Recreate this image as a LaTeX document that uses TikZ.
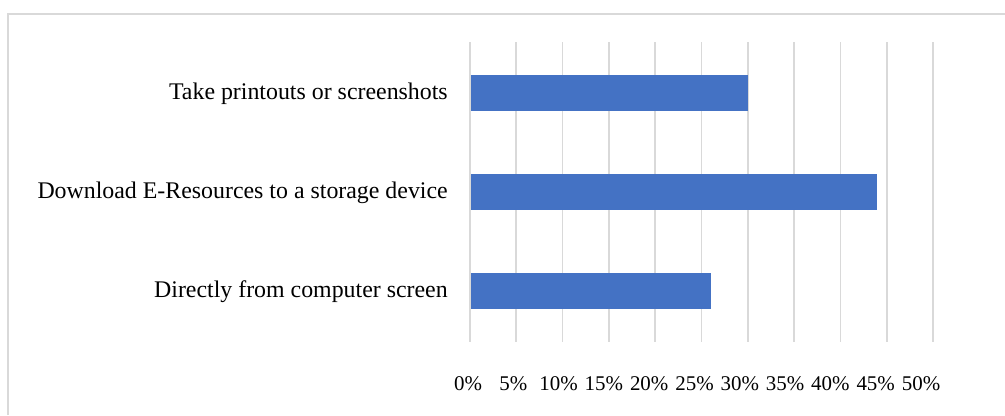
\documentclass[tikz,border=0pt]{standalone}
\usepackage{fontspec}
\setmainfont{Liberation Serif}
\definecolor{barblue}{HTML}{4472C4}
\definecolor{gridgray}{HTML}{D9D9D9}

\begin{document}
\begin{tikzpicture}[x=0.75pt, y=-0.75pt,
        every node/.style = {inner sep=0pt,
            font=\fontsize{15.7}{19}\selectfont},
        catlabel/.style = {anchor=east,
            font=\fontsize{17.9}{21}\selectfont},
        gridline/.style = {draw=gridgray, line width=1.3pt},
        frameline/.style = {draw=gridgray, line width=1.5pt},
        bar/.style = {fill=barblue}]
    \useasboundingbox (0,0) rectangle (1005,415);
    % chart frame (cut at right and bottom)
    \draw[frameline] (8,415) -- (8,14) -- (1005,14);
    % grid and axis labels
    \foreach \p [count=\i] in {0,5,...,50} {
        \draw[gridline] ({470+9.26*\p},42) -- ({470+9.26*\p},342);
        \node (tick\i) at ({468+9.06*\p},384) {\p\%};
    }
    % bars
    \foreach \v/\yc in {30/93, 44/192, 26/291}
        \fill[bar] (471,\yc-18) rectangle ({470+9.26*\v},\yc+18);
    % categories
    \node[catlabel] (printouts) at (448,94) {Take printouts or screenshots};
    \node[catlabel] (download) at (448,193) {Download E-Resources to a storage device};
    \node[catlabel] (screen) at (448,292) {Directly from computer screen};
\end{tikzpicture}
\end{document}
